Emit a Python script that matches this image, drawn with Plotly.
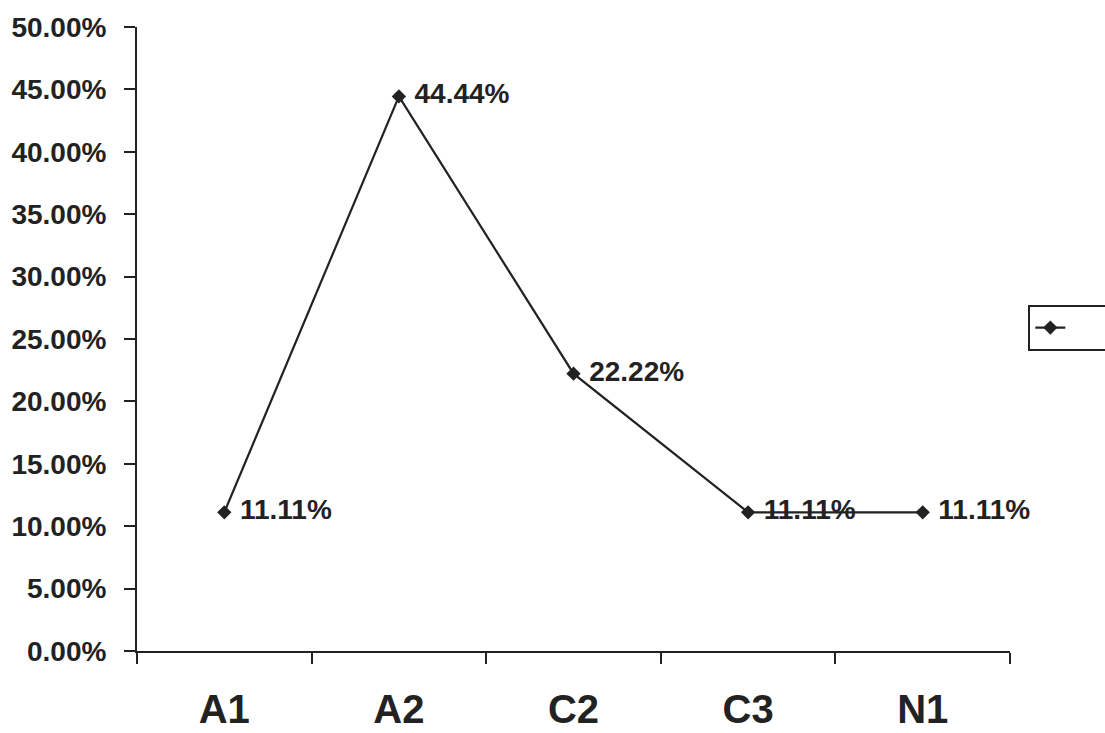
import plotly.graph_objects as go

# Share of each class (fraction of total)
categories = ["A1", "A2", "C2", "C3", "N1"]
shares = [0.1111, 0.4444, 0.2222, 0.1111, 0.1111]
y_ticks = [0.0, 0.05, 0.10, 0.15, 0.20, 0.25, 0.30, 0.35, 0.40, 0.45, 0.50]

FONT = "Liberation Sans, Arial, sans-serif"
INK = "#222222"

fig = go.Figure()
fig.add_trace(go.Scatter(
    x=categories,
    y=shares,
    mode="lines+markers+text",
    name="\u00a0" * 14,
    line=dict(color=INK, width=2.2),
    marker=dict(symbol="diamond", size=11, color=INK),
    texttemplate=" %{y:.2%}",
    textposition="middle right",
    textfont=dict(family=FONT, size=28, color=INK, weight="bold"),
    cliponaxis=False,
))

fig.update_layout(
    width=1105,
    height=733,
    margin=dict(l=137, r=95, t=27, b=82, autoexpand=False),
    paper_bgcolor="white",
    plot_bgcolor="white",
    showlegend=True,
    legend=dict(
        x=1.021, y=0.518, xanchor="left", yanchor="middle",
        bordercolor=INK, borderwidth=2, bgcolor="white",
        font=dict(family=FONT, size=22, color=INK),
    ),
    xaxis=dict(
        type="category",
        categoryorder="array",
        categoryarray=categories,
        range=[-0.5, len(categories) - 0.5],
        showline=True, linecolor=INK, linewidth=2,
        ticks="outside", tickson="boundaries", ticklen=11,
        tickcolor=INK, tickwidth=2,
        tickfont=dict(family=FONT, size=40, color=INK, weight="bold"),
        ticklabelstandoff=22,
        showgrid=False, zeroline=False,
    ),
    yaxis=dict(
        range=[0, 0.5],
        tickvals=y_ticks,
        tickformat=".2%",
        showline=True, linecolor=INK, linewidth=2,
        ticks="outside", ticklen=11, tickcolor=INK, tickwidth=2,
        tickfont=dict(family=FONT, size=28, color=INK, weight="bold"),
        ticklabelstandoff=12,
        showgrid=False, zeroline=False,
    ),
)

fig.write_html("out.html")
